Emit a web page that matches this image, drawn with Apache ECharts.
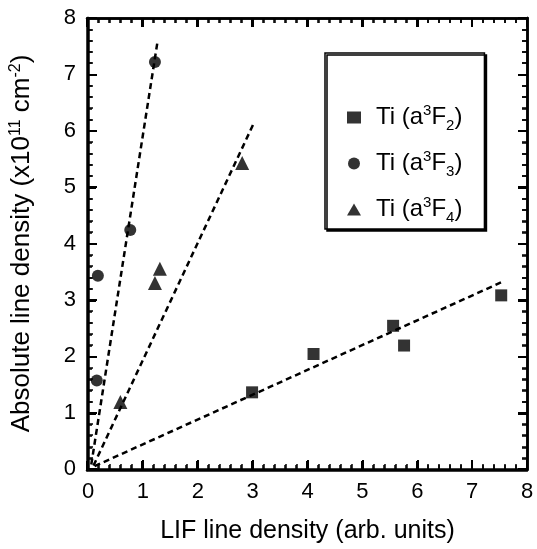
<!DOCTYPE html>
<html><head><meta charset="utf-8">
<script src="https://cdn.jsdelivr.net/npm/echarts@6/dist/echarts.min.js"></script>
<style>
html,body{margin:0;padding:0;background:#fff}
#wrap{position:relative;width:537px;height:549px}
#c,#t{position:absolute;left:0;top:0;width:537px;height:549px}
#t{pointer-events:none}
</style>
</head><body><div id="wrap"><div id="c"></div><div id="t"></div></div>
<script>
const xTicks = [0,1,2,3,4,5,6,7,8];
const yTicks = [0,1,2,3,4,5,6,7,8];
const seriesNames = ['Ti (a3F2)','Ti (a3F3)','Ti (a3F4)'];
const sqData = [[2.99,1.36],[4.11,2.04],[5.56,2.54],[5.76,2.19],[7.53,3.08]];
const ciData = [[0.16,1.57],[0.18,3.43],[0.77,4.24],[1.22,7.22]];
const trData = [[0.59,1.19],[1.22,3.30],[1.31,3.55],[2.81,5.43]];
const sqFit = [[0.12,0.05],[7.55,3.32]];
const ciFit = [[0.06,0.08],[1.27,7.6]];
const trFit = [[0.1,0.06],[3.01,6.11]];

const FONT = 'Liberation Sans, Arial, sans-serif';
const GRID = {left: 87, top: 18, width: 440, height: 452};
const xMin = xTicks[0], xMax = xTicks[xTicks.length - 1];
const yMin = yTicks[0], yMax = yTicks[yTicks.length - 1];

function ax(pos, isX, labels, extra) {
  return Object.assign({type: 'value', gridIndex: 0, position: pos,
    min: isX ? xMin : yMin, max: isX ? xMax : yMax, interval: 1,
    axisLine: {show: true, onZero: false, lineStyle: {color: '#000', width: 2.5}},
    axisTick: {show: true, inside: true, length: 9, lineStyle: {color: '#000', width: 2}},
    minorTick: {show: true, splitNumber: 5, length: 5, lineStyle: {color: '#000', width: 1.5}},
    splitLine: {show: false}, minorSplitLine: {show: false},
    axisLabel: labels ? {show: true, fontSize: 22, color: '#000', fontFamily: FONT, margin: 12,
      formatter: v => String(v)} : {show: false}}, extra || {});
}
const dashed = {color: '#000', width: 2.5, type: [6, 4]};

// main chart: data, labels, titles, legend
const chart = echarts.init(document.getElementById('c'));
chart.setOption({
  animation: false,
  grid: GRID,
  xAxis: [
    ax('bottom', true, true, {name: 'LIF line density (arb. units)', nameLocation: 'middle', nameGap: 50,
      nameTextStyle: {fontSize: 25, color: '#000', fontFamily: FONT}}),
    ax('top', true, false)
  ],
  yAxis: [
    ax('left', false, true, {name: '{n|Absolute line density (x10}{sup|11}{n| cm}{sup|-2}{n|)}',
      nameLocation: 'middle', nameGap: 50,
      nameTextStyle: {fontSize: 26, color: '#000', fontFamily: FONT,
        rich: {n: {fontSize: 26, fontFamily: FONT, color: '#000', lineHeight: 32},
               sup: {fontSize: 16, fontFamily: FONT, color: '#000', lineHeight: 32, padding: [0,0,12,0]}}}}),
    ax('right', false, false)
  ],
  legend: {
    orient: 'vertical', left: 325, top: 53,
    padding: [49, 22, 4, 22],
    itemGap: 15, itemWidth: 14, itemHeight: 12,
    backgroundColor: '#fff', borderColor: '#000', borderWidth: 1.5,
    shadowColor: '#000', shadowBlur: 0, shadowOffsetX: 2, shadowOffsetY: 2,
    data: [
      {name: seriesNames[0], icon: 'rect', itemStyle: {color: '#000'}},
      {name: seriesNames[1], icon: 'circle', itemStyle: {color: '#000'}},
      {name: seriesNames[2], icon: 'triangle', itemStyle: {color: '#000'}}
    ],
    formatter: name => {
      const sub = name.charAt(name.length - 2);
      return '{n|Ti (a}{sup|3}{n|F}{sub|' + sub + '}{n|)}';
    },
    textStyle: {
      padding: [0, 0, 0, 10],
      rich: {
        n: {fontSize: 24, fontFamily: FONT, color: '#000', lineHeight: 32},
        sup: {fontSize: 15, fontFamily: FONT, color: '#000', lineHeight: 32, padding: [0,0,13,0]},
        sub: {fontSize: 15, fontFamily: FONT, color: '#000', lineHeight: 32, padding: [16,0,0,0]}
      }
    }
  },
  series: [
    {name: seriesNames[0], type: 'scatter', data: sqData, symbol: 'rect', symbolSize: 12, itemStyle: {color: '#000'}, z: 5},
    {name: seriesNames[1], type: 'scatter', data: ciData, symbol: 'circle', symbolSize: 12, itemStyle: {color: '#000'}, z: 5},
    {name: seriesNames[2], type: 'scatter', data: trData, symbol: 'triangle', symbolSize: 14, itemStyle: {color: '#000'}, z: 5},
    {type: 'line', data: sqFit, symbol: 'none', lineStyle: dashed, silent: true},
    {type: 'line', data: ciFit, symbol: 'none', lineStyle: dashed, silent: true},
    {type: 'line', data: trFit, symbol: 'none', lineStyle: dashed, silent: true}
  ]
});

// overlay chart: the frame with inward major and minor ticks on all four sides
const frame = echarts.init(document.getElementById('t'));
frame.setOption({
  animation: false,
  grid: GRID,
  xAxis: [ax('bottom', true, false), ax('top', true, false)],
  yAxis: [ax('left', false, false), ax('right', false, false)],
  series: [{type: 'scatter', data: [], silent: true}]
});
</script></body></html>
